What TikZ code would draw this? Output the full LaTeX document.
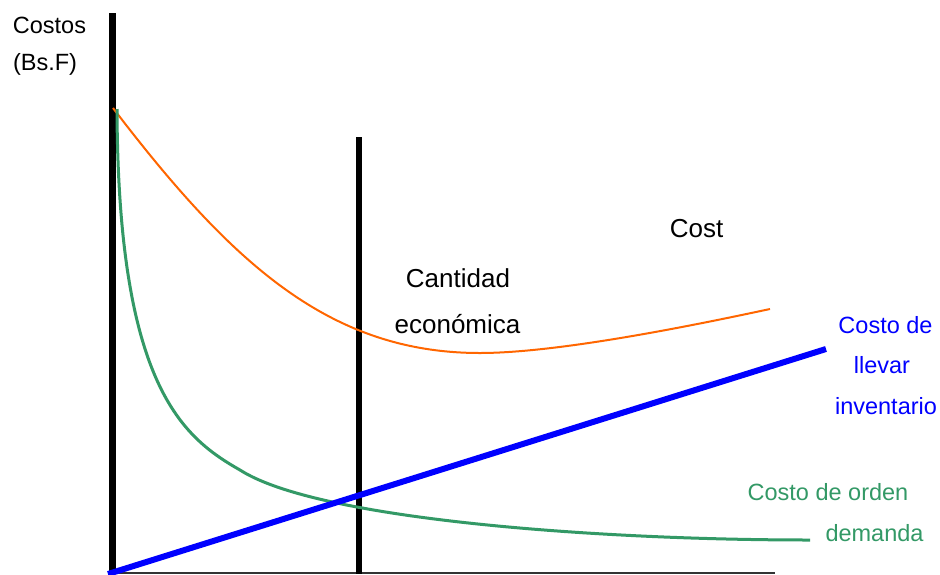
\documentclass[tikz,border=0pt]{standalone}
\usepackage{fontspec}
\setmainfont{Liberation Sans}
\definecolor{orng}{HTML}{FF6600}
\definecolor{grn}{HTML}{339966}
\definecolor{blu}{HTML}{0000FF}
\tikzset{
  lbl/.style={anchor=base, inner sep=0pt, font=\fontsize{23.5}{28}\selectfont},
  biglbl/.style={anchor=base, inner sep=0pt, font=\fontsize{26}{30}\selectfont},
  axisline/.style={line width=6.5pt, black},
}
\begin{document}
\begin{tikzpicture}[x=1pt,y=-1pt]
\useasboundingbox[fill=white] (0,0) rectangle (940,574);
% axes
\coordinate (xo) at (112,573);
\coordinate (xe) at (775,573);
\coordinate (yt) at (112.5,13);
\coordinate (yb) at (112.5,574);
\coordinate (mt) at (359,137);
\coordinate (mb) at (359,574);
\draw[line width=2pt, black!80] (xo) -- (xe);
\draw[axisline] (yt) -- (yb);
\draw[axisline] (mt) -- (mb);
% orange total cost curve
\coordinate (o0) at (113,108);
\coordinate (o1) at (480,353);
\coordinate (o2) at (770,309);
\draw[orng, line width=2pt] (o0) .. controls (232,264) and (330,353) .. (o1)
  .. controls (560,353) and (700,324) .. (o2);
% green ordering cost curve
\coordinate (g0) at (117,109);
\coordinate (g1) at (240,470);
\coordinate (g2) at (810,540);
\draw[grn, line width=3pt] (g0) .. controls (118,385) and (182,437) .. (g1)
  .. controls (318,520) and (600,540) .. (g2);
% blue carrying cost line
\coordinate (b0) at (108,574);
\coordinate (b1) at (826,349);
\draw[blu, line width=6pt] (b0) -- (b1);
% labels
\node[lbl] (costos) at (49.5,33) {Costos};
\node[lbl] (bsf) at (45,70) {(Bs.F)};
\node[biglbl] (cost) at (696.5,237) {Cost};
\node[biglbl] (cant) at (458,287) {Cantidad};
\node[biglbl] (econ) at (457.5,333) {económica};
\node[lbl, text=blu] (cd) at (885.5,333) {Costo de};
\node[lbl, text=blu] (llevar) at (882,373) {llevar};
\node[lbl, text=blu] (inv) at (886,414) {inventario};
\node[lbl, text=grn] (cdo) at (828,500) {Costo de orden};
\node[lbl, text=grn] (dem) at (874.5,541) {demanda};
\end{tikzpicture}
\end{document}
